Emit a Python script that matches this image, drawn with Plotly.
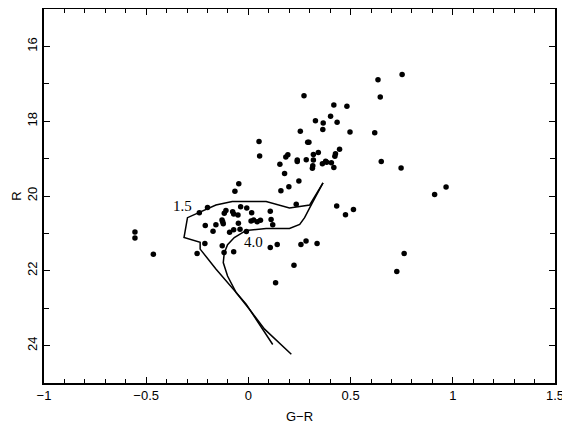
import plotly.graph_objects as go

# Observed stars: G-R colour and R magnitude
star_gr = [0.634, 0.752, 0.645, 0.618, 0.650, 0.747, 0.967, 0.911, 0.762, 0.726,
           0.272, 0.418, 0.482, 0.328, 0.366, 0.402, 0.434, 0.364, 0.254, 0.497,
           0.290, 0.296, 0.446, 0.426, 0.423, 0.342, 0.318, 0.193, 0.183, 0.239,
           0.239, 0.283, 0.318, 0.315, 0.313, 0.362, 0.378, 0.383, 0.406, 0.418,
           0.177, 0.247, 0.198, 0.159, 0.052, 0.055, -0.047, -0.066, 0.154, 0.234,
           0.432, 0.475, 0.514, -0.200, -0.240, -0.038, -0.008, -0.110, -0.118, -0.077,
           -0.072, -0.051, 0.016, 0.107, -0.129, -0.126, -0.123, -0.211, -0.159, -0.049,
           0.013, 0.026, 0.043, 0.059, 0.111, 0.119, -0.173, -0.092, -0.072, -0.041,
           -0.010, -0.213, -0.251, -0.128, -0.119, -0.072, 0.107, 0.141, 0.257, 0.282,
           0.336, 0.223, 0.133, -0.555, -0.555, -0.465]
star_r = [16.89, 16.75, 17.35, 18.31, 19.08, 19.25, 19.76, 19.96, 21.54, 22.02,
          17.32, 17.57, 17.60, 17.99, 18.05, 17.87, 18.03, 18.22, 18.27, 18.29,
          18.56, 18.56, 18.75, 18.87, 18.94, 18.84, 18.89, 18.90, 18.96, 19.04,
          19.08, 19.03, 19.04, 19.19, 19.26, 19.14, 19.07, 19.10, 19.11, 19.24,
          19.40, 19.60, 19.75, 19.86, 18.54, 18.93, 19.67, 19.87, 19.15, 20.22,
          20.27, 20.50, 20.36, 20.31, 20.45, 20.29, 20.32, 20.39, 20.46, 20.42,
          20.48, 20.51, 20.45, 20.41, 20.64, 20.69, 20.74, 20.79, 20.77, 20.73,
          20.67, 20.64, 20.69, 20.65, 20.63, 20.77, 20.94, 20.97, 20.90, 20.89,
          20.95, 21.27, 21.54, 21.33, 21.51, 21.49, 21.38, 21.30, 21.30, 21.20,
          21.27, 21.85, 22.32, 20.96, 21.12, 21.56]

# Isochrone 1.5 Gyr
iso15_gr = [0.119, -0.011, -0.159, -0.236, -0.236, -0.315, -0.298, -0.241, -0.159, -0.079,
            0.087, 0.201, 0.300, 0.365]
iso15_r = [23.97, 22.89, 21.95, 21.42, 21.24, 21.11, 20.58, 20.44, 20.24, 20.15,
           20.15, 20.32, 20.24, 19.65]

# Isochrone 4.0 Gyr
iso40_gr = [0.210, 0.079, 0.005, -0.060, -0.102, -0.123, -0.118, -0.102, -0.069, -0.011,
            0.087, 0.201, 0.251, 0.275, 0.310, 0.365]
iso40_r = [24.23, 23.56, 23.03, 22.58, 22.14, 21.78, 21.52, 21.30, 21.11, 20.92,
           20.87, 20.87, 20.76, 20.58, 20.21, 19.65]

iso_labels = ["1.5", "4.0"]
iso_label_gr = [-0.324, 0.025]
iso_label_r = [20.28, 21.24]

x_ticks = [-1, -0.5, 0, 0.5, 1, 1.5]
x_ticktext = ["\u22121", "\u22120.5", "0", "0.5", "1", "1.5"]
y_ticks = [16, 18, 20, 22, 24]

fig = go.Figure()
fig.add_trace(go.Scatter(x=iso15_gr, y=iso15_r, mode="lines",
                         line=dict(color="black", width=1.5), showlegend=False))
fig.add_trace(go.Scatter(x=iso40_gr, y=iso40_r, mode="lines",
                         line=dict(color="black", width=1.5), showlegend=False))
fig.add_trace(go.Scatter(x=star_gr, y=star_r, mode="markers",
                         marker=dict(color="black", size=5.5, line=dict(width=0)),
                         showlegend=False))
for t, gx, ry in zip(iso_labels, iso_label_gr, iso_label_r):
    fig.add_annotation(x=gx, y=ry, text=t, showarrow=False,
                       font=dict(family="Liberation Serif", size=15, color="black"))

axis_font = dict(family="Liberation Sans, Arial, sans-serif", size=13, color="black")
fig.update_layout(
    width=562, height=418,
    margin=dict(l=36, r=15, t=1, b=43),
    paper_bgcolor="white", plot_bgcolor="white",
    font=axis_font,
    xaxis=dict(range=[-1, 1.5], tickvals=x_ticks, ticktext=x_ticktext,
               ticks="inside", ticklen=6, tickwidth=1, tickcolor="black",
               minor=dict(dtick=0.1, ticks="inside", ticklen=4, tickcolor="black", tickwidth=1),
               showline=True, linecolor="black", linewidth=1.5, mirror="allticks",
               showgrid=False, zeroline=False, automargin=False,
               title=dict(text="G\u2212R", font=axis_font, standoff=10)),
    yaxis=dict(range=[25, 15], tickvals=y_ticks, tickangle=-90,
               ticks="inside", ticklen=6, tickwidth=1, tickcolor="black",
               minor=dict(dtick=1, ticks="inside", ticklen=5, tickcolor="black", tickwidth=1),
               showline=True, linecolor="black", linewidth=1.5, mirror="allticks",
               showgrid=False, zeroline=False, automargin=False,
               title=dict(text="R", font=axis_font, standoff=0)),
)
fig.write_html("out.html")
